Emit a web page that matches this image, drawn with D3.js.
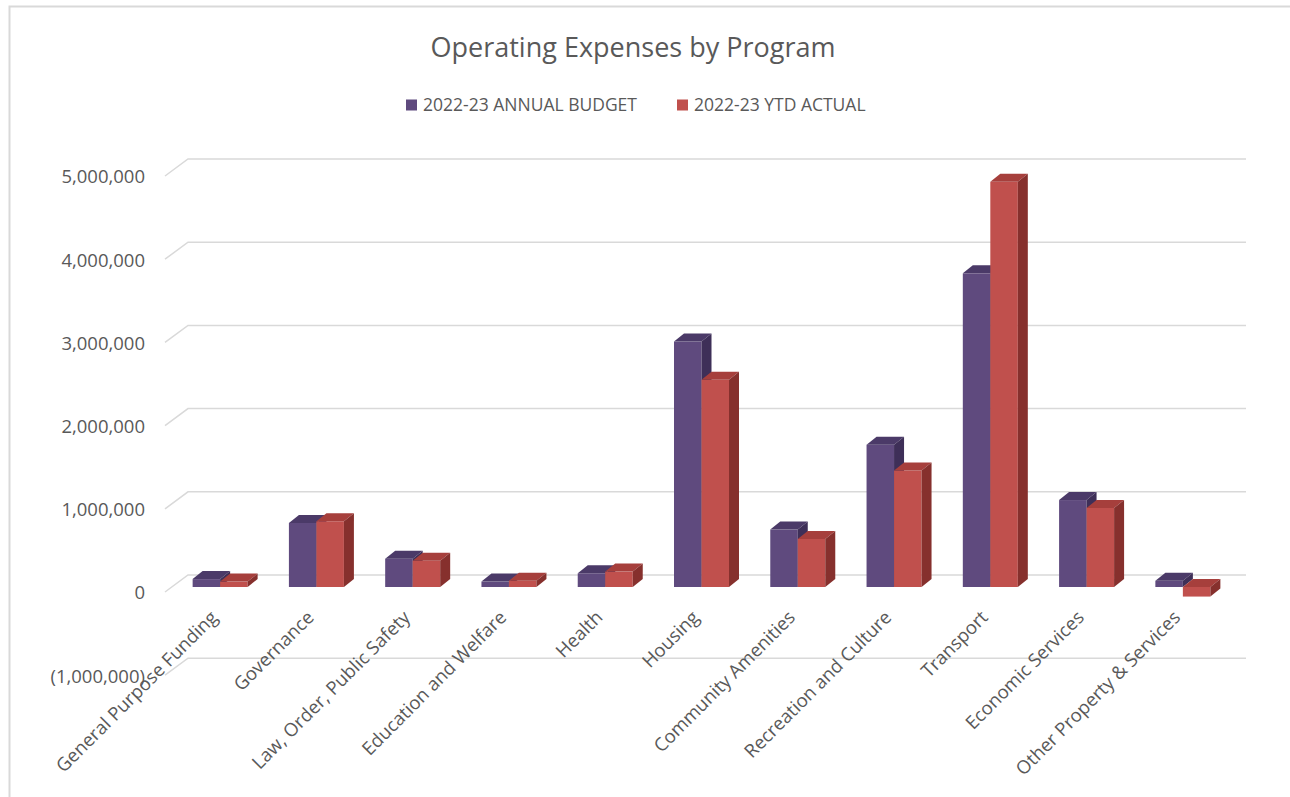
<!DOCTYPE html>
<html>
<head>
<meta charset="utf-8">
<script src="https://cdn.jsdelivr.net/npm/d3@7"></script>
<style>
  body { margin: 0; background: #fff; }
  svg { display: block; font-family: "Open Sans", sans-serif; }
</style>
</head>
<body>
<div id="chart"></div>
<script>
const categories = [
  "General Purpose Funding", "Governance", "Law, Order, Public Safety",
  "Education and Welfare", "Health", "Housing", "Community Amenities",
  "Recreation and Culture", "Transport", "Economic Services",
  "Other Property & Services"
];
const seriesNames = ["2022-23 ANNUAL BUDGET", "2022-23 YTD ACTUAL"];
const budget = [95000, 770000, 340000, 65000, 165000, 2950000, 690000, 1710000, 3770000, 1045000, 75000];
const actual = [65000, 790000, 315000, 75000, 185000, 2490000, 577000, 1400000, 4870000, 950000, -115000];
const yTicks = [-1000000, 0, 1000000, 2000000, 3000000, 4000000, 5000000];

const width = 1290, height = 797;
const colors = [
  { front: "#5f4a7e", top: "#4b3a68", side: "#3e2f58" },
  { front: "#c0504d", top: "#a63f3c", side: "#86302d" }
];
// depth of a bar box and of the chart walls
const depth = { dx: 10, dy: -8 };
const wall = { front: 5, back: -12, xFront: 165, xBack: 188, xEnd: 1246 };

const svg = d3.select("#chart").append("svg")
  .attr("width", width)
  .attr("height", height);

// outer chart frame
svg.append("rect")
  .attr("x", 9.5).attr("y", 6.5)
  .attr("width", 1400).attr("height", 900)
  .attr("fill", "none")
  .attr("stroke", "#d9d9d9")
  .attr("stroke-width", 2);

svg.append("text")
  .attr("x", 633).attr("y", 57)
  .attr("text-anchor", "middle")
  .attr("font-size", 27)
  .attr("fill", "#595959")
  .text("Operating Expenses by Program");

const x = d3.scaleBand().domain(categories).range([172, 1231]);
const xs = d3.scaleBand().domain(seriesNames).range([-27.5, 27.5]);
const y = d3.scaleLinear().domain([-1000000, 5000000]).range([670.2, 171]);

// legend
const legendX = [406, 677];
const legend = svg.append("g").selectAll("g")
  .data(seriesNames)
  .join("g")
  .attr("transform", (d, i) => `translate(${legendX[i]},105)`);
legend.append("rect")
  .attr("x", 0).attr("y", -5.5)
  .attr("width", 11).attr("height", 11)
  .attr("fill", (d, i) => colors[i].front);
legend.append("text")
  .attr("x", 17).attr("dy", "0.35em")
  .attr("font-size", 17.5)
  .attr("fill", "#595959")
  .text(d => d);

// gridlines on back wall and side wall
const grid = svg.append("g")
  .attr("stroke", "#d9d9d9")
  .attr("stroke-width", 1.5)
  .attr("fill", "none");
grid.selectAll("path")
  .data(yTicks)
  .join("path")
  .attr("d", v => `M${wall.xFront},${y(v) + wall.front}L${wall.xBack},${y(v) + wall.back}L${wall.xEnd},${y(v) + wall.back}`);

// y axis labels on the front edge
const fmt = d3.format(",");
svg.append("g")
  .attr("transform", `translate(145,${wall.front + 1})`)
  .call(d3.axisLeft(y).tickValues(yTicks).tickSize(0).tickPadding(0)
    .tickFormat(v => v < 0 ? `(${fmt(-v)})` : fmt(v)))
  .call(g => g.select(".domain").remove())
  .call(g => g.selectAll("text")
    .attr("font-family", "Open Sans, sans-serif")
    .attr("font-size", 18.5)
    .attr("fill", "#595959"));

// 3D bars
const rows = categories.map((c, i) => ({ c, vals: [budget[i], actual[i]] }));
const barW = xs.bandwidth();
const groups = svg.append("g").selectAll("g")
  .data(rows)
  .join("g")
  .attr("transform", d => `translate(${x(d.c) + x.bandwidth() / 2},0)`);

seriesNames.forEach((s, si) => {
  const bar = groups.append("g");
  const bx = xs(s);
  const yt = d => y(Math.max(0, d.vals[si]));
  const yb = d => y(Math.min(0, d.vals[si]));
  bar.append("rect")
    .attr("x", bx).attr("y", yt)
    .attr("width", barW)
    .attr("height", d => Math.max(0.5, yb(d) - yt(d)))
    .attr("fill", colors[si].front);
  bar.append("path")
    .attr("fill", colors[si].top)
    .attr("d", d => `M${bx},${yt(d)}l${depth.dx},${depth.dy}h${barW}l${-depth.dx},${-depth.dy}Z`);
  bar.append("path")
    .attr("fill", colors[si].side)
    .attr("d", d => `M${bx + barW},${yt(d)}l${depth.dx},${depth.dy}V${yb(d) + depth.dy}l${-depth.dx},${-depth.dy}Z`);
});

// category labels
svg.append("g")
  .attr("transform", "translate(0,614)")
  .call(d3.axisBottom(x).tickSize(0))
  .call(g => g.select(".domain").remove())
  .call(g => g.selectAll("text")
    .attr("font-family", "Open Sans, sans-serif")
    .attr("font-size", 18.5)
    .attr("fill", "#595959")
    .attr("text-anchor", "end")
    .attr("y", 0)
    .attr("dy", "0.35em")
    .attr("transform", "translate(-6,0) rotate(-45)"));
</script>
</body>
</html>
